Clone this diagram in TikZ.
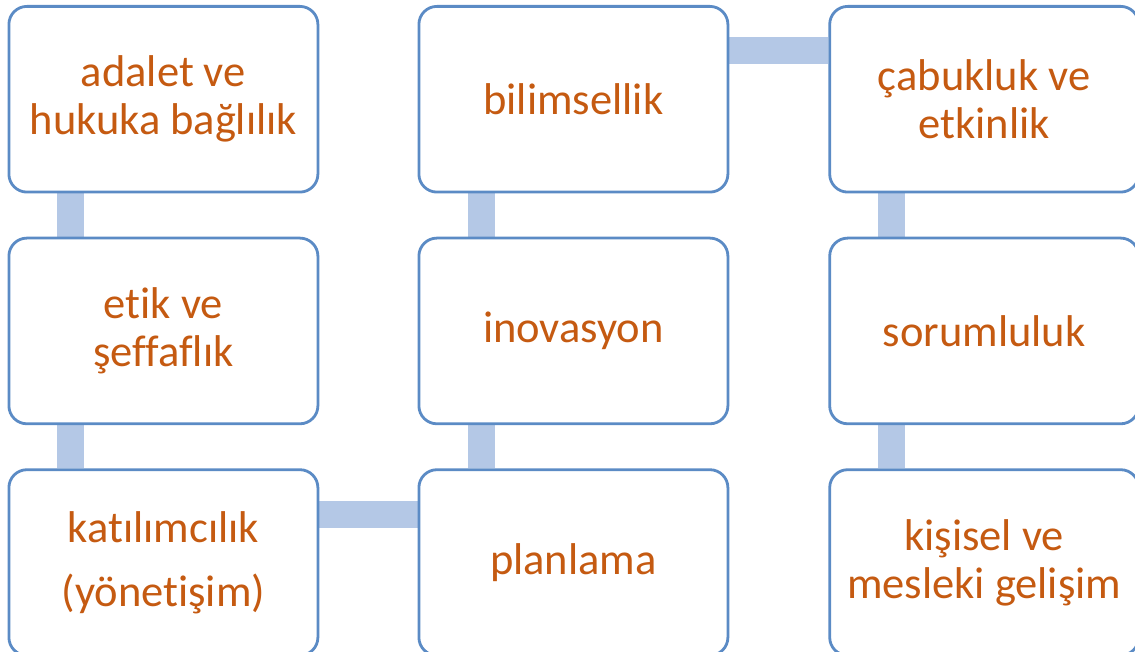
\documentclass[tikz,border=0pt]{standalone}
\usepackage{fontspec}
\setmainfont{Carlito}[RawFeature={-liga}]
\usetikzlibrary{calc,backgrounds}
\definecolor{bordc}{HTML}{5B8BC5}
\definecolor{linkc}{HTML}{B4C8E6}
\definecolor{txtc}{HTML}{C55A11}
\begin{document}
\begin{tikzpicture}[x=1pt,y=-1pt,
  box/.style={draw=bordc, line width=2.8pt, rounded corners=18pt, fill=white,
    minimum width=309pt, minimum height=185.7pt, inner sep=0pt, anchor=north west,
    align=center, text=txtc, font=\fontsize{44.5}{48}\selectfont},
  link/.style={draw=linkc, line width=27pt}]
\useasboundingbox (0,0) rectangle (1135,652);
% column 1
\node[box] (a1) at (7.5,5) {adalet ve\\hukuka bağlılık};
\node[box] (a2) at (7.5,236.7) {etik ve\\şeffaflık};
\node[box] (a3) at (7.5,468.3) {katılımcılık\\[16pt](yönetişim)};
% column 2
\node[box] (b1) at (417.5,5) {bilimsellik};
\node[box] (b2) at (417.5,236.7) {inovasyon};
\node[box] (b3) at (417.5,468.3) {planlama};
% column 3
\node[box] (c1) at (828.3,5) {çabukluk ve\\etkinlik};
\node[box] (c2) at (828.3,236.7) {sorumluluk};
\node[box] (c3) at (828.3,468.3) {kişisel ve\\mesleki gelişim};
\begin{scope}[on background layer]
\draw[link] ($(a1.south west)+(62.5,0)$) -- ($(a2.north west)+(62.5,0)$);
\draw[link] ($(a2.south west)+(62.5,0)$) -- ($(a3.north west)+(62.5,0)$);
\draw[link] ($(a3.north east)+(0,46)$) -- ($(b3.north west)+(0,46)$);
\draw[link] ($(b3.north west)+(63.5,0)$) -- ($(b2.south west)+(63.5,0)$);
\draw[link] ($(b2.north west)+(63.5,0)$) -- ($(b1.south west)+(63.5,0)$);
\draw[link] ($(b1.north east)+(0,46)$) -- ($(c1.north west)+(0,46)$);
\draw[link] ($(c1.south west)+(63,0)$) -- ($(c2.north west)+(63,0)$);
\draw[link] ($(c2.south west)+(63,0)$) -- ($(c3.north west)+(63,0)$);
\end{scope}
\end{tikzpicture}
\end{document}
